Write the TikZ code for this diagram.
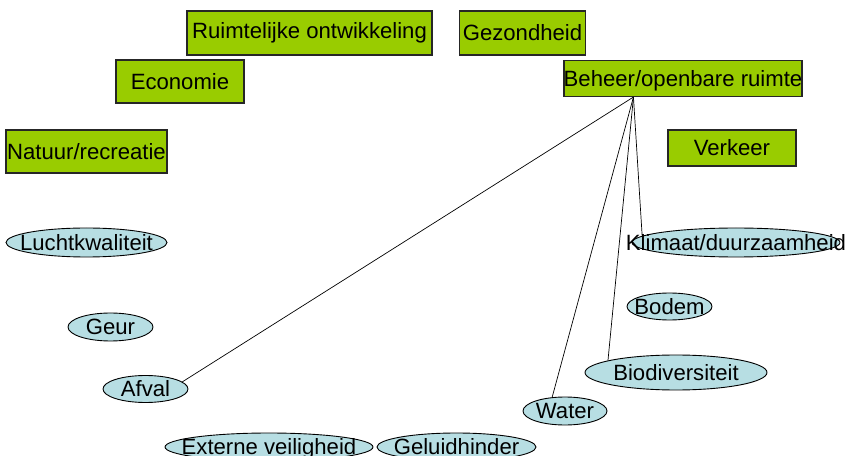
\documentclass[tikz,border=0pt]{standalone}
\usepackage{fontspec}
\setmainfont{Liberation Sans}
\usetikzlibrary{shapes.geometric,calc}
\definecolor{boxgreen}{HTML}{99CC00}
\definecolor{ellblue}{HTML}{B7DEE3}
\newcommand{\ztext}[1]{\makebox[0pt]{\raisebox{-0.36em}[0pt][0pt]{#1}}}
\begin{document}
\begin{tikzpicture}[x=1bp,y=-1bp,
  greenbox/.style={rectangle,draw=black!85,line width=1.1bp,fill=boxgreen,inner sep=0pt,
    font=\fontsize{22.2}{24}\selectfont},
  blueell/.style={ellipse,draw=black,line width=0.9bp,fill=ellblue,inner sep=0pt,
    font=\fontsize{22.2}{24}\selectfont},
  link/.style={draw=black,line width=0.7bp}]
\useasboundingbox (0,0) rectangle (845,456);
% green boxes
\node[greenbox,minimum width=245bp,minimum height=44bp] (ruim) at (309.5,33) {Ruimtelijke ontwikkeling};
\node[greenbox,minimum width=126bp,minimum height=44bp] (gez) at (522.5,33) {Gezondheid};
\node[greenbox,minimum width=128bp,minimum height=43bp] (eco) at (180,81.5) {Economie};
\node[greenbox,minimum width=238bp,minimum height=36bp] (beh) at (683,78.5) {\ztext{Beheer/openbare ruimte}};
\node[greenbox,minimum width=161bp,minimum height=43bp] (nat) at (86.5,151.5) {\ztext{Natuur/recreatie}};
\node[greenbox,minimum width=128bp,minimum height=36bp] (verk) at (732,148) {Verkeer};
% blue ellipses
\node[blueell,minimum width=161bp,minimum height=29bp] (lucht) at (86.5,242.5) {\ztext{Luchtkwaliteit}};
\node[blueell,minimum width=208bp,minimum height=29bp] (klim) at (736,242.5) {\ztext{Klimaat/duurzaamheid}};
\node[blueell,minimum width=85bp,minimum height=27bp] (bodem) at (669.5,306.5) {\ztext{Bodem}};
\node[blueell,minimum width=85bp,minimum height=28bp] (geur) at (110.5,327) {\ztext{Geur}};
\node[blueell,minimum width=182bp,minimum height=35bp] (bio) at (676,372.5) {\ztext{Biodiversiteit}};
\node[blueell,minimum width=85bp,minimum height=27bp] (afval) at (145.5,389) {\ztext{Afval}};
\node[blueell,minimum width=84bp,minimum height=28bp] (water) at (565,411) {\ztext{Water}};
\node[blueell,minimum width=208bp,minimum height=28bp] (ext) at (269,447) {\ztext{Externe veiligheid}};
\node[blueell,minimum width=159bp,minimum height=28bp] (gel) at (456.5,447) {\ztext{Geluidhinder}};
% connectors
\coordinate (hub) at ($(beh.south west)+(70,0)$);
\draw[link] (hub) -- (afval.11);
\draw[link] (hub) -- (water.133);
\draw[link] (hub) -- (bio.170);
\draw[link] (hub) -- (klim.176);
\end{tikzpicture}
\end{document}
